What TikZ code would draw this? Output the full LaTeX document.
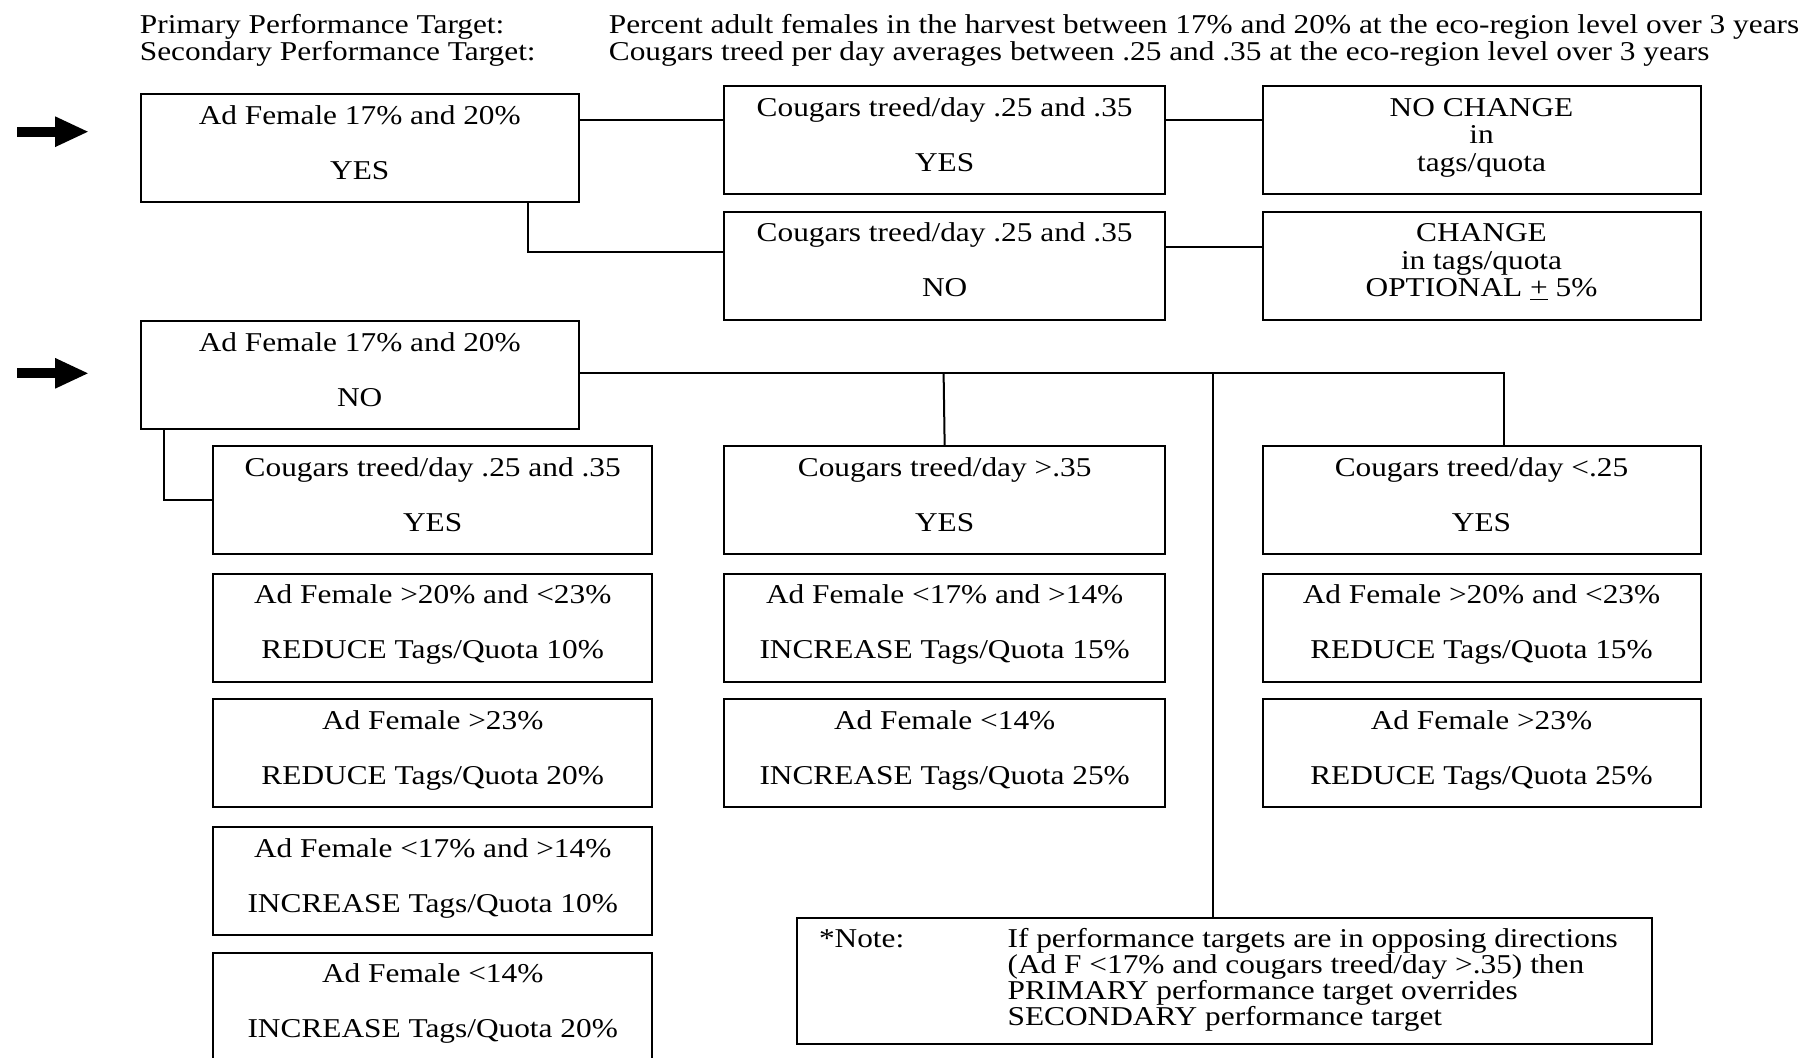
\documentclass[tikz,border=0pt]{standalone}
\usepackage{fontspec}
\setmainfont{Liberation Serif}[FakeStretch=1.152]
\usetikzlibrary{arrows.meta}
\newcommand\myfont{\fontsize{13.6pt}{13.75pt}\selectfont\lineskiplimit=-20pt\relax}
\newcommand\twol[3]{\parbox[c][54pt][t]{#1}{\lineskiplimit=-20pt\centering\rule{0pt}{15pt}#2\\[13.75pt]#3\par}}
\newcommand\threel[4]{\parbox[c][54pt][t]{#1}{\lineskiplimit=-20pt\centering\rule{0pt}{15pt}#2\\#3\\#4\par}}
\newcommand\cgs{Cougars treed/day .25 and .35\hspace*{12.5pt}}
\tikzset{
  box/.style={draw, line width=1pt, inner sep=0pt, anchor=north west},
  conn/.style={line width=1pt},
  bigarrow/.style={line width=5pt, -{Triangle[length=17pt,width=14pt]}},
  hdr/.style={anchor=base west, inner sep=0pt}
}
\begin{document}
\begin{tikzpicture}[x=0.5pt, y=-0.5pt, every node/.style={font=\myfont}]
\useasboundingbox (0,0) rectangle (1804,1057);
% header
\node[hdr] (H1) at (139.5,33.3) {\parbox[t]{220pt}{Primary Performance Target:\\Secondary Performance Target:}};
\node[hdr] (H2) at (608.5,33.3) {\parbox[t]{600pt}{Percent adult females in the harvest between 17\% and 20\% at the eco-region level over 3 years\\Cougars treed per day averages between .25 and .35 at the eco-region level over 3 years}};
% entry arrows
\coordinate (aS1) at (17,131.7);
\coordinate (aE1) at (89,131.7);
\coordinate (aS2) at (17,373.3);
\coordinate (aE2) at (89,373.3);
\draw[bigarrow] (aS1) -- (aE1);
\draw[bigarrow] (aS2) -- (aE2);
% top part
\node[box] (A1) at (139.5,93.3) {\twol{219.25pt}{Ad Female 17\% and 20\%}{YES}};
\node[box] (B1) at (723.3,85) {\twol{220.35pt}{\cgs}{YES}};
\node[box] (C1) at (1261.5,85) {\threel{219pt}{NO CHANGE}{in}{tags/quota}};
\node[box] (B2) at (723.3,210.7) {\twol{220.35pt}{\cgs}{NO}};
\node[box] (C2) at (1261.5,210.7) {\threel{219pt}{CHANGE}{in tags/quota}{OPTIONAL \underline{+} 5\%}};
\node[box] (A2) at (139.5,320) {\twol{219.25pt}{Ad Female 17\% and 20\%}{NO}};
% row 3
\node[box] (L1) at (212.4,445.3) {\twol{219.3pt}{\cgs}{YES}};
\node[box] (M1) at (723.3,445.3) {\twol{220.35pt}{Cougars treed/day >.35}{YES}};
\node[box] (R1) at (1261.5,445.3) {\twol{219pt}{Cougars treed/day <.25}{YES}};
% row 4
\node[box] (L2) at (212.4,572.7) {\twol{219.3pt}{Ad Female >20\% and <23\%}{REDUCE Tags/Quota 10\%}};
\node[box] (M2) at (723.3,572.7) {\twol{220.35pt}{Ad Female <17\% and >14\%}{INCREASE Tags/Quota 15\%}};
\node[box] (R2) at (1261.5,572.7) {\twol{219pt}{Ad Female >20\% and <23\%}{REDUCE Tags/Quota 15\%}};
% row 5
\node[box] (L3) at (212.4,698.3) {\twol{219.3pt}{Ad Female >23\%}{REDUCE Tags/Quota 20\%}};
\node[box] (M3) at (723.3,698.3) {\twol{220.35pt}{Ad Female <14\%}{INCREASE Tags/Quota 25\%}};
\node[box] (R3) at (1261.5,698.3) {\twol{219pt}{Ad Female >23\%}{REDUCE Tags/Quota 25\%}};
% rows 6,7
\node[box] (L4) at (212.4,826) {\twol{219.3pt}{Ad Female <17\% and >14\%}{INCREASE Tags/Quota 10\%}};
\node[box] (L5) at (212.4,951.7) {\twol{219.3pt}{Ad Female <14\%}{INCREASE Tags/Quota 20\%}};
% note
\node[box] (Note) at (796,916.5) {\parbox[c][63pt][t]{427.5pt}{\lineskiplimit=-20pt\baselineskip=13pt\rule{0pt}{15pt}\hspace*{11pt}\makebox[94.3pt][l]{*Note:}\parbox[t]{320pt}{\lineskiplimit=-20pt\raggedright\baselineskip=13pt If performance targets are in opposing directions\\(Ad F <17\% and cougars treed/day >.35) then\\PRIMARY performance target overrides\\SECONDARY performance target}}};
% connector helpers
\coordinate (h1) at (0,120);
\coordinate (h2) at (528,252);
\coordinate (h3) at (0,246.7);
\coordinate (h4) at (0,373);
\coordinate (v5) at (163.6,500);
\coordinate (jM) at (943.6,373);
\coordinate (jN) at (1213,373);
\coordinate (jR) at (1503.6,373);
% connectors
\draw[conn] (A1.east |- h1) -- (B1.west |- h1);
\draw[conn] (B1.east |- h1) -- (C1.west |- h1);
\draw[conn] (A1.south -| h2) |- (B2.west |- h2);
\draw[conn] (B2.east |- h3) -- (C2.west |- h3);
\draw[conn] (A2.east |- h4) -| (R1.north -| jR);
\draw[conn] (jM) -- (M1.north);
\draw[conn] (jN) -- (Note.north -| jN);
\draw[conn] (A2.south -| v5) |- (L1.west |- v5);
\end{tikzpicture}
\end{document}
